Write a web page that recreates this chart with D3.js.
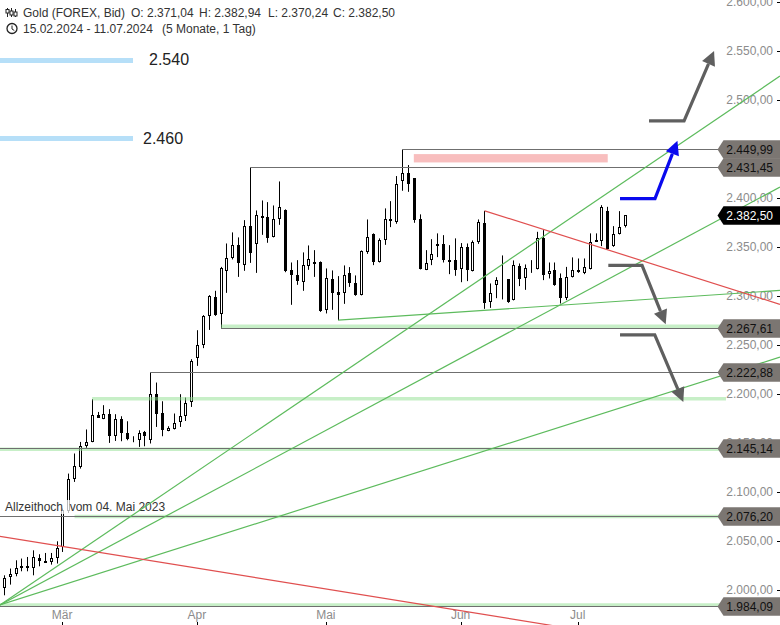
<!DOCTYPE html>
<html><head><meta charset="utf-8">
<script src="https://cdn.jsdelivr.net/npm/d3@7"></script>
<style>html,body{margin:0;padding:0;background:#fff}svg{display:block}text{font-family:"Liberation Sans",Arial,sans-serif;white-space:pre}</style>
</head><body><svg id="c" width="780" height="625"></svg>
<script>
const opens=[2003.1,2002.8,2013.6,2017,2022.8,2024.5,2022.8,2033.4,2030.3,2028.9,
2033.4,2044.2,2081.7,2114,2125.9,2147.3,2151.1,2178.7,2175.6,2180.4,
2157.2,2174.6,2161,2154.6,2153.9,2161.3,2153.9,2200.8,2181,2162.6,
2165.1,2171.2,2177.9,2191.6,2237.2,2250.8,2279,2298.8,2281,2325.4,
2338.2,2351.9,2331.1,2371.3,2352.9,2381.8,2380.5,2360.1,2378.4,2387.6,
2326.4,2321.3,2314.1,2330.1,2334.5,2334.5,2285.5,2317.2,2303.9,2302.9,
2323.3,2313.1,2300.9,2344.4,2363.1,2334.5,2357,2378.4,2375,2416.8,
2425.4,2420.3,2378.4,2326.7,2336.2,2350.5,2352.9,2336.6,2336.6,2327,
2349.9,2325.4,2354.6,2374.4,2293.3,2311.1,2316.2,2317.2,2295.8,2330.8,
2318.2,2328,2327.4,2359.1,2322.3,2326.4,2318.2,2297.4,2319.2,2326.4,
2323.3,2328,2357.3,2355.6,2386.6,2350.5,2363.1,2371.04];
const closes=[1994.9,2013,2017,2023.2,2024.8,2025.1,2034,2029.9,2028.9,2033.4,
2043.6,2081.7,2114,2127.3,2147.3,2151.4,2178.7,2175.9,2180.4,2157.5,
2174.3,2160.6,2154.5,2154.5,2161,2157.5,2200.8,2180.4,2164.1,2166.1,
2171.2,2177.6,2191.6,2233.5,2250.8,2280.4,2299.8,2280.8,2328.4,2338.6,
2351.9,2333.1,2371.3,2343.7,2382.5,2380.1,2358.6,2378.4,2390.7,2325.7,
2320.9,2314.7,2331.5,2337.6,2333.1,2284.1,2318.2,2302.5,2300.5,2321.3,
2312.7,2300.5,2345.8,2360.1,2334.5,2357,2378.4,2376.4,2414.2,2425.4,
2414.2,2377,2327.4,2333.5,2342.7,2352.9,2336.9,2335.2,2326,2349.9,
2326,2355,2375.4,2292.7,2302.9,2316.2,2314.7,2293.3,2331.5,2317.8,
2328.4,2328.4,2359.1,2320.9,2325.4,2310.7,2297.8,2319.2,2326.4,2323.9,
2329.4,2355.6,2355.6,2390.7,2347.8,2363.1,2370.3,2382.5];
const highs=[2003.1,2015.3,2022.2,2030.6,2032.4,2034,2040.8,2036.8,2038.1,2038.1,
2050,2083.4,2119.1,2139.6,2151.4,2164.1,2195,2182,2188.9,2184.8,
2179.7,2177.6,2172.5,2157.2,2163.3,2162.6,2222.2,2212,2192.9,2167.4,
2180.4,2200.1,2196.7,2235.8,2265.4,2280.8,2301.2,2305.6,2330,2353.9,
2365.2,2360.1,2377.7,2431.45,2387.6,2397.8,2396.1,2392.7,2417.2,2388.7,
2334.5,2336.9,2344.8,2351.9,2347.1,2335.6,2328.4,2326.4,2320.6,2331.5,
2329.8,2321.3,2346.8,2378.4,2364.2,2359.1,2389.7,2397.1,2422.7,2449.99,
2433.9,2420.6,2383.6,2347.1,2358.3,2364.2,2362.4,2352.2,2359.1,2354.3,
2353.9,2357,2378.4,2387.2,2313.1,2319.5,2341.7,2317.5,2336.6,2333.5,
2332.5,2336.9,2365.8,2367.5,2334.5,2334.5,2323.3,2330,2339.7,2338.6,
2338.6,2364.2,2364.2,2393,2391.3,2371.6,2386.9,2382.94];
const lows=[1994.9,1994.9,2005.8,2014.3,2019.4,2019.4,2015.3,2024.5,2028.9,2026.2,
2027.3,2039.1,2078.9,2110.6,2124.2,2145.3,2151.1,2175.9,2174.6,2150.4,
2152.4,2152.1,2153.1,2151.1,2146.3,2147,2149.8,2166.7,2157.2,2162.3,
2164.1,2166.7,2172.8,2187.1,2229,2247.1,2265.7,2280,2267.8,2303.5,
2337.6,2319.8,2326,2334.1,2323.9,2362.7,2354.6,2360.1,2372.9,2324.6,
2291.3,2311.7,2305.6,2327,2319.8,2284.1,2282.5,2286.2,2275.6,2292.3,
2309.6,2300.5,2300.9,2343.3,2331.8,2334.5,2352.5,2370.6,2374,2407.7,
2406.6,2375,2327.4,2326.7,2331.8,2340,2334.5,2322.6,2320.9,2314.4,
2315.5,2325.4,2353.5,2287.2,2288.2,2298.1,2296.8,2293.3,2295.8,2310.4,
2306.6,2323.9,2327.4,2316.5,2318.2,2310.7,2292.7,2296.1,2319.2,2323.9,
2322.6,2327.4,2355.6,2351.2,2347.8,2350.5,2363.1,2370.24];

const yTicks=[2000,2050,2100,2150,2200,2250,2300,2350,2400,2450,2500,2550,2600];
const monthLabels=["Mär","Apr","Mai","Jun","Jul"];
const monthIndex=[11,34,56,79,99];

const levelValues=[2449.99,2431.45,2267.61,2222.88,2145.14,2076.20,1984.09];
const levelStart=[69,43,38,26,0,0,0];
const bandValues=[2269.4,2195.4,2143.9,2075.2,1985.1];
const bandStart=[38,16,0,13,0];
const targetValues=[2540,2460];
const targetLabels=["2.540","2.460"];
const zoneIdx=[70.9,104];
const zoneVal=[2445.1,2436.6];
const greenLines=[[[0.26,1985],[133.4,2524.7]],[[0.26,1985],[133.4,2411.4]],[[0.26,1985],[133.4,2237.9]],[[58,2275.6],[133.4,2306]]];
const redLines=[[[0.26,2055.1],[95.9,1962.7]],[[83,2387.2],[133.4,2291.7]]];
const arrowsGray=[[[111.05,2479.1],[117.03,2479.1],[122.15,2550.3]],[[104.1,2331.5],[109.86,2331.5],[113.9,2271.6]],[[106.1,2260.6],[112.03,2260.6],[116.9,2192.2]]];
const arrowsBlue=[[[106.1,2399.7],[112.07,2399.7],[115.9,2458.7]]];

const fmt=v=>{const s=v.toFixed(2).replace(".",",");return s.slice(0,1)+"."+s.slice(1)};
const svg=d3.select("#c");
const x=d3.scaleLinear().domain([0,107]).range([-1.55,625.3]);
const y=d3.scaleLinear().domain([2000,2600]).range([590.3,2.3]);
const line=d3.line().x(d=>x(d[0])).y(d=>y(d[1]));

// axis ticks & labels
const gy=svg.append("g");
gy.selectAll("text").data(yTicks).join("text").attr("x",773).attr("y",d=>y(d)+3.4)
  .attr("text-anchor","end").attr("font-size",12).attr("fill","#8c8c8c").text(fmt);
gy.selectAll("line").data(yTicks).join("line").attr("x1",777).attr("x2",780)
  .attr("y1",d=>Math.round(y(d))+.5).attr("y2",d=>Math.round(y(d))+.5).attr("stroke","#000");
const gx=svg.append("g");
gx.selectAll("text").data(monthLabels).join("text").attr("x",(d,i)=>x(monthIndex[i])-.7).attr("y",618.5)
  .attr("text-anchor","middle").attr("font-size",12).attr("fill","#8c8c8c").text(d=>d);
gx.selectAll("line").data(monthIndex).join("line")
  .attr("x1",d=>Math.floor(x(d))+.5).attr("x2",d=>Math.floor(x(d))+.5).attr("y1",622).attr("y2",625).attr("stroke","#000");

// candles
const idx=d3.range(opens.length);
const gc=svg.append("g");
gc.selectAll("line").data(idx).join("line")
  .attr("x1",i=>Math.floor(x(i))+.5).attr("x2",i=>Math.floor(x(i))+.5)
  .attr("y1",i=>y(highs[i])).attr("y2",i=>y(lows[i])).attr("stroke","#000").attr("stroke-width",1);
gc.selectAll("rect").data(idx).join("rect")
  .attr("x",i=>Math.floor(x(i))-.5).attr("width",2)
  .attr("y",i=>Math.round(y(Math.max(opens[i],closes[i])))+.5)
  .attr("height",i=>Math.max(0,Math.round(Math.abs(y(opens[i])-y(closes[i])))-1+ (Math.abs(opens[i]-closes[i])<1.5?1:0)))
  .attr("fill",i=>closes[i]>=opens[i]?"#fff":"#000").attr("stroke","#000");

// text backdrop for note
svg.append("rect").attr("x",0).attr("y",500).attr("width",168).attr("height",14).attr("fill","#fff").attr("fill-opacity",.72);
svg.append("text").attr("x",5).attr("y",511).attr("font-size",12).attr("fill","#333").text("Allzeithoch  vom 04. Mai 2023");

// bands
svg.append("g").selectAll("line").data(bandValues).join("line")
  .attr("x1",(d,i)=>x(bandStart[i])).attr("x2",726).attr("y1",d=>y(d)).attr("y2",d=>y(d))
  .attr("stroke","#8fe08f").attr("stroke-opacity",.5).attr("stroke-width",3.5);
// gray levels
svg.append("g").selectAll("line").data(levelValues).join("line")
  .attr("x1",(d,i)=>Math.max(0,Math.floor(x(levelStart[i])))).attr("x2",722)
  .attr("y1",d=>Math.round(y(d))+.5).attr("y2",d=>Math.round(y(d))+.5)
  .attr("stroke","#6f6f6f").attr("stroke-width",1);

// pink zone
svg.append("rect").attr("x",x(zoneIdx[0])).attr("width",x(zoneIdx[1])-x(zoneIdx[0]))
  .attr("y",y(zoneVal[0])).attr("height",y(zoneVal[1])-y(zoneVal[0])).attr("fill","#f8bebe");

// trend lines
svg.append("g").selectAll("path").data(greenLines).join("path").attr("d",line)
  .attr("fill","none").attr("stroke","#5dbb5d").attr("stroke-width",1.2);
svg.append("g").selectAll("path").data(redLines).join("path").attr("d",line)
  .attr("fill","none").attr("stroke","#e04f4f").attr("stroke-width",1.2);

// target bars
svg.append("g").selectAll("line").data(targetValues).join("line")
  .attr("x1",0).attr("x2",133).attr("y1",d=>Math.floor(y(d))-.5).attr("y2",d=>Math.floor(y(d))-.5)
  .attr("stroke","#b6dff8").attr("stroke-width",5);
svg.append("g").selectAll("text").data(targetLabels).join("text")
  .attr("x",(d,i)=>[149,143][i]).attr("y",(d,i)=>y(targetValues[i])+[3.5,4.2][i])
  .attr("font-size",16).attr("fill","#222").text(d=>d);

// arrows
function arrow(pts,color){
  const p=pts.map(d=>[x(d[0]),y(d[1])]);
  const a=p[1],b=p[2];
  const t=Math.atan2(b[1]-a[1],b[0]-a[0]);
  const L=14,W=7;
  const bx=b[0]-L*Math.cos(t),by=b[1]-L*Math.sin(t);
  svg.append("path").attr("d",d3.line()([p[0],p[1],[bx,by]])).attr("fill","none")
    .attr("stroke",color).attr("stroke-width",3.2).attr("stroke-linejoin","miter");
  svg.append("path").attr("d",d3.line()([b,[bx-W*Math.sin(t),by+W*Math.cos(t)],[bx+W*Math.sin(t),by-W*Math.cos(t)]])+"Z").attr("fill",color);
}
arrowsGray.forEach(a=>arrow(a,"#5f5f5f"));
arrowsBlue.forEach(a=>arrow(a,"#0a0aee"));

// price tags
function tag(v,bg,fg){
  const c=Math.round(y(v))+.5,h=9.2;
  svg.append("path").attr("d",d3.line()([[717.5,c],[723.5,c-h],[780,c-h],[780,c+h],[723.5,c+h]])+"Z").attr("fill",bg);
  svg.append("text").attr("x",773).attr("y",c+4.3).attr("text-anchor","end").attr("font-size",12).attr("fill",fg).text(fmt(v));
}
levelValues.forEach(v=>tag(v,"#7b7672","#111"));
tag(closes[closes.length-1],"#000","#fff");

// header
const hd=svg.append("g").attr("font-size",12).attr("fill","#333");
[["Gold (FOREX, Bid)",23,17],["O: 2.371,04",131,17],["H: 2.382,94",199,17],["L: 2.370,24",268,17],["C: 2.382,50",333,17],
 ["15.02.2024 - 11.07.2024",23,33],["(5 Monate, 1 Tag)",162,33]].forEach(d=>hd.append("text").attr("x",d[1]).attr("y",d[2]).text(d[0]));
const ic=svg.append("g").attr("stroke","#222").attr("fill","none");
[[7.5,8,17,9.5,13],[11.5,8,17,11,15],[15.5,9,17,12,16]].forEach(d=>{
  ic.append("path").attr("d",`M${d[0]} ${d[1]}V${d[2]}`);
  ic.append("rect").attr("x",d[0]-1.5).attr("y",d[3]).attr("width",3).attr("height",d[4]-d[3]).attr("fill","#fff");
});
ic.append("circle").attr("cx",12).attr("cy",28.5).attr("r",5).attr("stroke-width",1.3);
ic.append("path").attr("d","M12 25.5V29L14.3 30.5");
</script></body></html>
